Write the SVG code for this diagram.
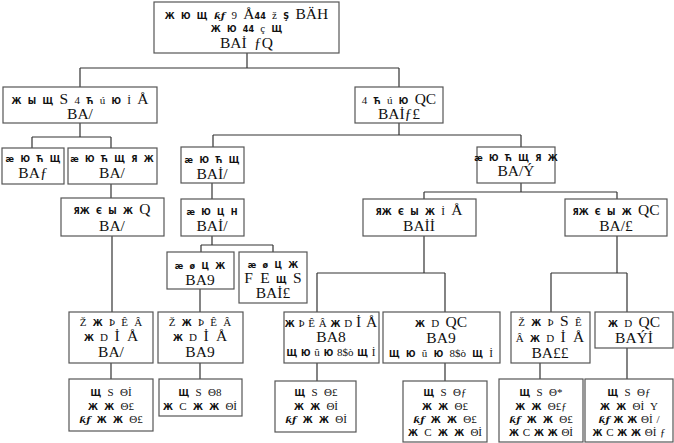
<svg xmlns="http://www.w3.org/2000/svg" width="674" height="443" viewBox="0 0 674 443">
<style>
rect{fill:#fff;stroke:#555;stroke-width:1.2}
#edges path{fill:none;stroke:#333;stroke-width:1.2}
text{text-anchor:middle;fill:#111;font-family:"DejaVu Sans Condensed","DejaVu Sans",sans-serif;font-weight:bold;font-size:9px;word-spacing:3.5px}
.b{font-family:"Liberation Serif","DejaVu Serif",serif;font-weight:normal;font-size:15.5px}
.m{font-family:"Liberation Serif","DejaVu Serif",serif;font-weight:normal;font-size:11px}
.k{font-family:"DejaVu Serif",serif;font-weight:bold;font-style:italic;font-size:10px}
.t{word-spacing:1px}
</style>
<rect x="0" y="0" width="674" height="443" style="stroke:none"/>
<g id="edges">
<path d="M247 53V68M80 68H399M80 68V87M399 68V87"/>
<path d="M80 123V137M32 137H111M32 137V148M111 137V148"/>
<path d="M399 123V135M213 135H521M213 135V147M521 135V147"/>
<path d="M111 184V198"/>
<path d="M212 183V199"/>
<path d="M521 183V192M424 192H617M424 192V199M617 192V199"/>
<path d="M112 236V312"/>
<path d="M212 236V245M201 245H273M201 245V252M273 245V252"/>
<path d="M200 289V312"/>
<path d="M424 236V273M317 273H445M317 273V312M445 273V312"/>
<path d="M617 236V273M551 273H627M551 273V312M627 273V312"/>
<path d="M111 363V379M200 363V379M317 363V381M445 363V381M540 363V379M627 348V379"/>
</g>
<g id="n0"><rect x="154" y="2" width="185" height="51"/>
<text x="246.5" y="19">Ж Ю Щ <tspan class="k">ƙƒ</tspan> <tspan class="m">9</tspan> <tspan class="b">Å</tspan>44 <tspan class="m">ž</tspan> Ş <tspan class="b">BÄH</tspan></text>
<text x="246.5" y="32">Ж Ю 44 <tspan class="m">ç</tspan> Щ</text>
<text x="246.5" y="48" class="b">BAİ ƒQ</text></g>
<g id="n1"><rect x="3" y="87" width="154" height="36"/>
<text x="80" y="104">Ж Ы Щ <tspan class="b">S</tspan> <tspan class="m">4</tspan> Ћ <tspan class="m">ú</tspan> Ю <tspan class="m">İ</tspan> <tspan class="b">Å</tspan></text>
<text x="80" y="119" class="b">BA/</text></g>
<g id="n2"><rect x="355" y="87" width="88" height="36"/>
<text x="399" y="104"><tspan class="m">4</tspan> Ћ <tspan class="m">ú</tspan> Ю <tspan class="b">QC</tspan></text>
<text x="399" y="119" class="b">BAİƒ£</text></g>
<g id="n3"><rect x="2" y="148" width="62" height="36"/>
<text x="33" y="162">æ Ю Ћ Щ</text>
<text x="33" y="178" class="b">BAƒ</text></g>
<g id="n4"><rect x="68" y="148" width="89" height="36"/>
<text x="112" y="162">æ Ю Ћ Щ Я Ж</text>
<text x="112" y="178" class="b">BA/</text></g>
<g id="n5"><rect x="181" y="147" width="63" height="36"/>
<text x="212" y="163">æ Ю Ћ Щ</text>
<text x="212" y="179" class="b">BAİ/</text></g>
<g id="n6"><rect x="477" y="147" width="78" height="36"/>
<text x="516" y="161">æ Ю Ћ Щ Я Ж</text>
<text x="516" y="176" class="b">BA/Ý</text></g>
<g id="n7"><rect x="61" y="198" width="103" height="38"/>
<text x="112" y="214">ЯЖ Є Ы Ж <tspan class="b">Q</tspan></text>
<text x="112" y="231" class="b">BA/</text></g>
<g id="n8"><rect x="181" y="199" width="63" height="37"/>
<text x="212" y="215">æ Ю Ц Н</text>
<text x="212" y="231" class="b">BAİ/</text></g>
<g id="n9"><rect x="363" y="199" width="113" height="37"/>
<text x="419" y="215">ЯЖ Є Ы Ж <tspan class="m">İ</tspan> <tspan class="b">Å</tspan></text>
<text x="419" y="231" class="b">BAİİ</text></g>
<g id="n10"><rect x="565" y="199" width="102" height="37"/>
<text x="616" y="215">ЯЖ Є Ы Ж <tspan class="b">QC</tspan></text>
<text x="616" y="231" class="b">BA/£</text></g>
<g id="n11"><rect x="167" y="252" width="67" height="37"/>
<text x="200" y="269">æ ø Ц Ж</text>
<text x="200" y="285" class="b">BA9</text></g>
<g id="n12"><rect x="239" y="252" width="68" height="51"/>
<text x="273" y="268">æ ø Ц Ж</text>
<text x="273" y="283"><tspan class="b">F E</tspan> Щ <tspan class="b">S</tspan></text>
<text x="273" y="298" class="b">BAİ£</text></g>
<g id="n13"><rect x="69" y="312" width="84" height="51"/>
<text x="111" y="326"><tspan class="m">Ž</tspan> Ж <tspan class="m">Þ Ê Â</tspan></text>
<text x="111" y="341">Ж <tspan class="m">D</tspan> <tspan class="b">İ Å</tspan></text>
<text x="111" y="357" class="b">BA/</text></g>
<g id="n14"><rect x="158" y="312" width="85" height="51"/>
<text x="200" y="326"><tspan class="m">Ž</tspan> Ж <tspan class="m">Þ Ê Â</tspan></text>
<text x="200" y="341">Ж <tspan class="m">D</tspan> <tspan class="b">İ Å</tspan></text>
<text x="200" y="357" class="b">BA9</text></g>
<g id="n15"><rect x="284" y="312" width="95" height="51"/>
<text x="331" y="327" class="t">Ж <tspan class="m">Þ Ê Â</tspan> Ж <tspan class="m">D</tspan> <tspan class="b">İ Å</tspan></text>
<text x="331" y="342" class="b">BA8</text>
<text x="331" y="356" class="t">Щ Ю <tspan class="m">û</tspan> Ю <tspan class="m">8$ò</tspan> Щ <tspan class="m">İ</tspan></text></g>
<g id="n16"><rect x="383" y="312" width="117" height="51"/>
<text x="441" y="327">Ж <tspan class="m">D</tspan> <tspan class="b">QC</tspan></text>
<text x="441" y="343" class="b">BA9</text>
<text x="441" y="357">Щ Ю <tspan class="m">û</tspan> Ю <tspan class="m">8$ò</tspan> Щ <tspan class="m">İ</tspan></text></g>
<g id="n17"><rect x="511" y="312" width="79" height="51"/>
<text x="550" y="326"><tspan class="m">Ž</tspan> Ж <tspan class="m">Þ</tspan> <tspan class="b">S</tspan> <tspan class="m">Ê</tspan></text>
<text x="550" y="342"><tspan class="m">Â</tspan> Ж <tspan class="m">D</tspan> <tspan class="b">İ Å</tspan></text>
<text x="550" y="358" class="b">BA££</text></g>
<g id="n18"><rect x="595" y="312" width="78" height="36"/>
<text x="634" y="327">Ж <tspan class="m">D</tspan> <tspan class="b">QC</tspan></text>
<text x="634" y="343" class="b">BAÝİ</text></g>
<g id="n19"><rect x="69" y="379" width="84" height="52"/>
<text x="111" y="396">Щ <tspan class="m">S</tspan> <tspan class="m">Θİ</tspan></text>
<text x="111" y="410">Ж Ж <tspan class="m">Θ£</tspan></text>
<text x="111" y="423"><tspan class="k">ƙƒ</tspan> Ж Ж <tspan class="m">Θ£</tspan></text></g>
<g id="n20"><rect x="159" y="379" width="83" height="37"/>
<text x="200" y="396">Щ <tspan class="m">S</tspan> <tspan class="m">Θ8</tspan></text>
<text x="200" y="410">Ж <tspan class="m">C</tspan> Ж Ж <tspan class="m">Θİ</tspan></text></g>
<g id="n21"><rect x="275" y="381" width="81" height="51"/>
<text x="316" y="396">Щ <tspan class="m">S</tspan> <tspan class="m">Θ£</tspan></text>
<text x="316" y="410">Ж Ж <tspan class="m">Θİ</tspan></text>
<text x="316" y="423"><tspan class="k">ƙƒ</tspan> Ж Ж <tspan class="m">Θİ</tspan></text></g>
<g id="n22"><rect x="403" y="381" width="84" height="61"/>
<text x="445" y="396">Щ <tspan class="m">S</tspan> <tspan class="m">Θƒ</tspan></text>
<text x="445" y="410">Ж Ж <tspan class="m">Θ£</tspan></text>
<text x="445" y="423"><tspan class="k">ƙƒ</tspan> Ж Ж <tspan class="m">Θ£</tspan></text>
<text x="445" y="436">Ж <tspan class="m">C</tspan> Ж Ж <tspan class="m">Θİ</tspan></text></g>
<g id="n23"><rect x="499" y="379" width="84" height="63"/>
<text x="541" y="396">Щ <tspan class="m">S</tspan> <tspan class="m">Θ*</tspan></text>
<text x="541" y="410">Ж Ж <tspan class="m">Θ£ƒ</tspan></text>
<text x="541" y="423"><tspan class="k">ƙƒ</tspan> Ж Ж <tspan class="m">Θ£</tspan></text>
<text x="541" y="436" class="t">Ж <tspan class="m">C</tspan> Ж Ж <tspan class="m">Θİ</tspan></text></g>
<g id="n24"><rect x="585" y="379" width="88" height="63"/>
<text x="629" y="396">Щ <tspan class="m">S</tspan> <tspan class="m">Θƒ</tspan></text>
<text x="629" y="410">Ж Ж <tspan class="m">Θİ Y</tspan></text>
<text x="629" y="423" class="t"><tspan class="k">ƙƒ</tspan> Ж Ж <tspan class="m">Θİ /</tspan></text>
<text x="629" y="436" class="t">Ж <tspan class="m">C</tspan> Ж Ж <tspan class="m">Θİ ƒ</tspan></text></g>
</svg>
